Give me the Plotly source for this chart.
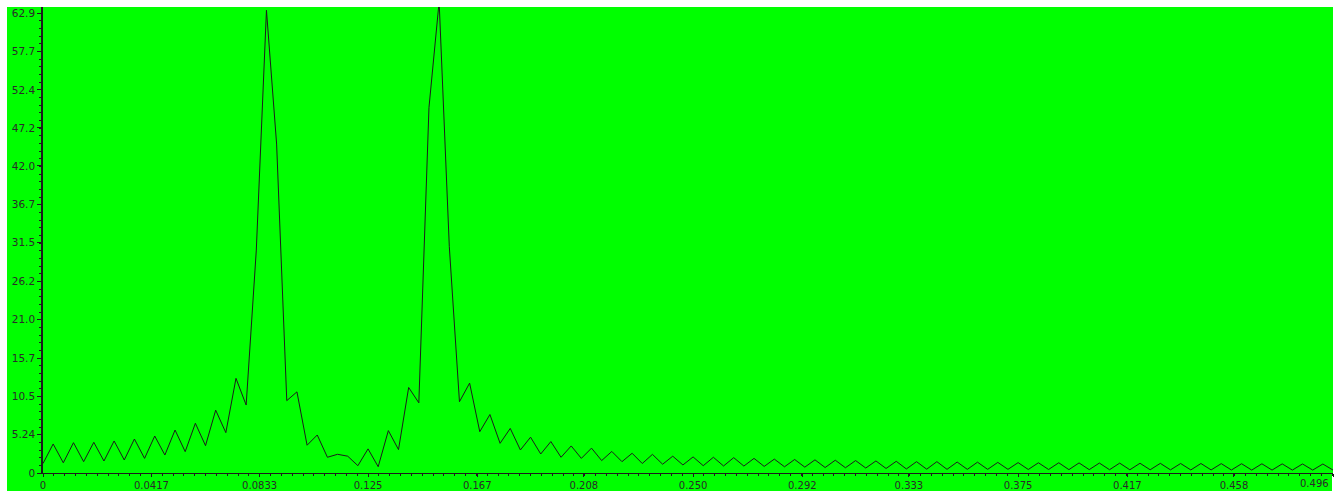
import numpy as np
import plotly.graph_objects as go

# spectrum magnitude, one value per FFT bin (N = 256, bins 0..127)
magnitude = [
    1.3, 3.97, 1.4, 4.15, 1.55, 4.2, 1.64, 4.38, 1.78, 4.65,
    2.0, 5.06, 2.46, 5.88, 2.92, 6.8, 3.74, 8.6, 5.52, 12.95,
    9.3, 30.5, 63.3, 45.0, 9.9, 11.1, 3.8, 5.2, 2.15, 2.56,
    2.3, 1.0, 3.3, 0.86, 5.8, 3.2, 11.7, 9.6, 50.0, 64.5,
    31.0, 9.75, 12.3, 5.65, 8.0, 4.06, 6.1, 3.15, 4.9, 2.6,
    4.3, 2.15, 3.7, 2.0, 3.4, 1.7, 2.95, 1.55, 2.7, 1.3,
    2.55, 1.2, 2.3, 1.1, 2.2, 1.0, 2.15, 0.96, 2.1, 0.95,
    2.0, 0.9, 1.9, 0.85, 1.85, 0.8, 1.8, 0.75, 1.75, 0.72,
    1.7, 0.68, 1.65, 0.62, 1.6, 0.55, 1.55, 0.52, 1.55, 0.5,
    1.5, 0.5, 1.48, 0.5, 1.45, 0.5, 1.42, 0.48, 1.4, 0.48,
    1.4, 0.46, 1.38, 0.46, 1.36, 0.45, 1.35, 0.44, 1.33, 0.44,
    1.32, 0.43, 1.3, 0.42, 1.3, 0.42, 1.28, 0.41, 1.27, 0.4,
    1.26, 0.4, 1.25, 0.4, 1.24, 0.4, 1.23, 0.4,
]
N_FFT = 256

x_ticklabels = ["0", "0.0417", "0.0833", "0.125", "0.167", "0.208",
                "0.250", "0.292", "0.333", "0.375", "0.417", "0.458"]
x_end_label = "0.496"
y_ticklabels = ["0", "5.24", "10.5", "15.7", "21.0", "26.2", "31.5",
                "36.7", "42.0", "47.2", "52.4", "57.7", "62.9"]

freq = np.arange(len(magnitude)) / N_FFT
x_end = freq[-1]

GREEN = "#00FF00"
INK = "#1c1c1c"
FONT = dict(family="DejaVu Sans, Arial, sans-serif", size=10.5, color="#2a2a2a")
XFONT = dict(FONT, size=10)

fig = go.Figure()
fig.add_trace(
    go.Scatter(
        x=freq, y=magnitude, mode="lines",
        line=dict(color=INK, width=1),
        hoverinfo="x+y",
    )
)

W, H = 1336, 491
L, R, T, B = 43, 3, 7, 18
pw, ph = W - L - R, H - T - B

# green panel behind everything (white strips on top / left / right)
fig.add_shape(
    type="rect", xref="paper", yref="paper", layer="below",
    x0=(7 - L) / pw, x1=(1332 - L) / pw, y0=-B / ph, y1=1,
    fillcolor=GREEN, line=dict(width=0),
)

fig.add_annotation(
    x=x_end, xref="x", y=0, yref="paper", text=x_end_label,
    showarrow=False, xanchor="right", yanchor="top",
    xshift=-2, yshift=-3, font=XFONT,
)

fig.update_xaxes(
    range=[0, x_end],
    tickmode="array",
    tickvals=[float(t) for t in x_ticklabels] + [x_end],
    ticktext=x_ticklabels + [""],
    ticks="outside", ticklen=3, tickcolor=INK,
    tickfont=XFONT, automargin=False,
    minor=dict(ticks="outside", ticklen=2, tickcolor=INK, dtick=1 / 240, tick0=0),
    showline=True, linecolor=INK, linewidth=1,
    showgrid=False, zeroline=False,
)
fig.update_yaxes(
    range=[0, 63.75],
    tickmode="array",
    tickvals=[float(t) for t in y_ticklabels],
    ticktext=y_ticklabels,
    ticks="outside", ticklen=4, tickcolor=INK,
    tickfont=FONT, automargin=False,
    minor=dict(ticks="outside", ticklen=2, tickcolor=INK, dtick=62.9 / 60, tick0=0),
    showline=True, linecolor=INK, linewidth=1.5,
    showgrid=False, zeroline=False,
)

fig.update_layout(
    width=W, height=H,
    margin=dict(l=L, r=R, t=T, b=B, autoexpand=False),
    paper_bgcolor="white",
    plot_bgcolor=GREEN,
    showlegend=False,
)

# drop the browser's default body margin so the figure sits at (0, 0)
fig.write_html(
    "out.html",
    config={"displayModeBar": False},
    post_script="document.body.style.margin='0';document.body.style.overflow='hidden';",
)
